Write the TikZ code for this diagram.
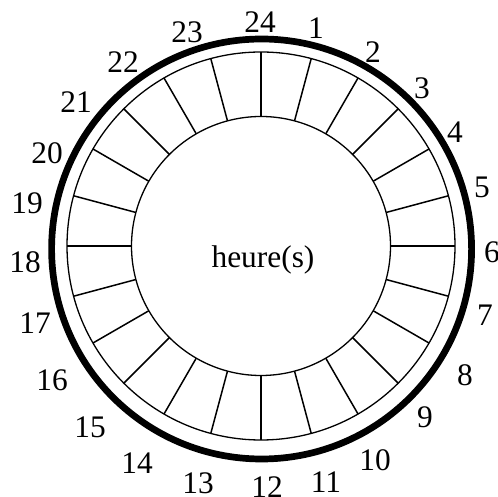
\documentclass[tikz,border=0pt]{standalone}
\usepackage{fontspec}
\setmainfont{Liberation Serif}
\usepackage{tikz}

\begin{document}
\begin{tikzpicture}[
    x=1bp,y=1bp,
    rim/.style={line width=6.7bp},
    ring/.style={line width=1.3bp},
    spoke/.style={line width=1.5bp},
    hour/.style={inner sep=0pt,font=\fontsize{31.5}{31.5}\selectfont},
  ]
  \useasboundingbox (0,0) rectangle (498,497);
  \coordinate (c) at (261,251);
  \coordinate (rc) at (261.6,248);
  % outer thick circle
  \draw[rim] (rc) circle (210);
  % ring of 24 cells
  \draw[ring] (c) circle (194);
  \draw[ring] (c) circle (129.5);
  \foreach \k in {0,...,23}
    \draw[spoke] ([shift={(90-15*\k:129.5)}]c) -- ([shift={(90-15*\k:194)}]c);
  \node[font=\fontsize{31.5}{31.5}\selectfont] (title) at (263,237) {heure(s)};
  % hour numbers
  \foreach \k/\x/\y in {1/316/28,2/373/52,3/422/88,4/455/132,5/482/187,6/492/252,
      7/485/315,8/465/375,9/425/417,10/375/460,11/326/482,12/267/487,
      13/198/483,14/137/463,15/90/427,16/52/380,17/35/323,18/25/262,
      19/27/203,20/47/153,21/76/102,22/123/62,23/187/32,24/260/22}
    \node[hour] (h\k) at (\x,497-\y) {\k};
\end{tikzpicture}
\end{document}
